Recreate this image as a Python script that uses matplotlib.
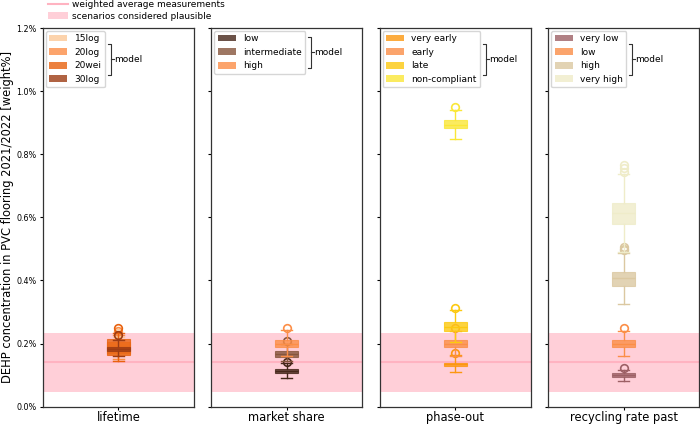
import matplotlib
matplotlib.use("Agg")
import matplotlib.pyplot as plt
from matplotlib.patches import Patch
from matplotlib.lines import Line2D
from matplotlib.ticker import FuncFormatter

# ---------------- data (values in weight%) ----------------
panel_titles = ["lifetime", "market share", "phase-out", "recycling rate past"]

lifetime_labels = ["15log", "20log", "20wei", "30log"]
lifetime_whislo = [0.150, 0.152, 0.146, 0.160]
lifetime_q1 = [0.166, 0.170, 0.163, 0.176]
lifetime_med = [0.180, 0.183, 0.186, 0.182]
lifetime_q3 = [0.200, 0.205, 0.213, 0.190]
lifetime_whishi = [0.222, 0.228, 0.235, 0.212]
lifetime_fliers = [[0.232], [0.240], [0.248], [0.226]]

market_labels = ["low", "intermediate", "high"]
market_whislo = [0.090, 0.145, 0.162]
market_q1 = [0.106, 0.158, 0.189]
market_med = [0.112, 0.167, 0.200]
market_q3 = [0.119, 0.176, 0.2126]
market_whishi = [0.137, 0.200, 0.242]
market_fliers = [[0.141], [0.207], [0.248]]

phase_labels = ["very early", "early", "late", "non-compliant"]
phase_whislo = [0.109, 0.162, 0.205, 0.848]
phase_q1 = [0.128, 0.189, 0.240, 0.882]
phase_med = [0.134, 0.200, 0.254, 0.894]
phase_q3 = [0.140, 0.210, 0.268, 0.908]
phase_whishi = [0.165, 0.241, 0.307, 0.940]
phase_fliers = [[0.170], [0.248], [0.313], [0.950]]

recyc_labels = ["very low", "low", "high", "very high"]
recyc_whislo = [0.081, 0.162, 0.326, 0.490]
recyc_q1 = [0.0946, 0.189, 0.382, 0.580]
recyc_med = [0.100, 0.200, 0.407, 0.615]
recyc_q3 = [0.106, 0.210, 0.426, 0.647]
recyc_whishi = [0.117, 0.241, 0.486, 0.738]
recyc_fliers = [[0.124], [0.248], [0.495, 0.500, 0.505], [0.745, 0.755, 0.765]]

measured_avg = 0.142
plausible_low = 0.047
plausible_high = 0.234

# ---------------- styles ----------------
lifetime_colors = ["#fcc997", "#fc8e47", "#e8620f", "#9c3c14"]
market_colors = ["#46271a", "#86553c", "#fc8e47"]
phase_colors = ["#fc9710", "#fb8e47", "#fcc910", "#fae738"]
recyc_colors = ["#9c6065", "#fb8e47", "#dbc8a1", "#efecc9"]

panels = [
    (lifetime_labels, lifetime_whislo, lifetime_q1, lifetime_med, lifetime_q3, lifetime_whishi, lifetime_fliers, lifetime_colors),
    (market_labels, market_whislo, market_q1, market_med, market_q3, market_whishi, market_fliers, market_colors),
    (phase_labels, phase_whislo, phase_q1, phase_med, phase_q3, phase_whishi, phase_fliers, phase_colors),
    (recyc_labels, recyc_whislo, recyc_q1, recyc_med, recyc_q3, recyc_whishi, recyc_fliers, recyc_colors),
]

ALPHA = 0.8
BAND_COLOR = "pink"
LINE_COLOR = "#ffb3c1"
FS_SMALL = 6.5
FS_TICK = 5.8
FS_LABEL = 8.3

fig = plt.figure(figsize=(7.0, 4.24), dpi=100)
axes = fig.subplots(1, 4, sharey=True)
fig.subplots_adjust(left=43 / 700, right=699 / 700, bottom=1 - 406.7 / 424,
                    top=1 - 28 / 424, wspace=0.117)

legends = []
for ax, title, (labels, wlo, q1, med, q3, whi, fl, colors) in zip(axes, panel_titles, panels):
    ax.axhspan(plausible_low, plausible_high, color=BAND_COLOR, alpha=0.75, lw=0, zorder=0)
    ax.axhline(measured_avg, color=LINE_COLOR, lw=1.5, zorder=0.5)
    for i, lab in enumerate(labels):
        st = [dict(label=lab, whislo=wlo[i], q1=q1[i], med=med[i], q3=q3[i],
                   whishi=whi[i], fliers=fl[i])]
        c = colors[i]
        ax.bxp(st, positions=[1], widths=0.15, patch_artist=True,
               boxprops=dict(facecolor=c, edgecolor=c, alpha=ALPHA, lw=0.8),
               medianprops=dict(color=c, lw=1.0),
               whiskerprops=dict(color=c, lw=1.0),
               capprops=dict(color=c, lw=1.0),
               flierprops=dict(marker="o", markerfacecolor="none", markeredgecolor=c,
                               markersize=5.5, markeredgewidth=1.2),
               manage_ticks=False, zorder=2 + i)
    ax.set_xlim(0.5, 1.5)
    ax.set_xticks([1])
    ax.set_xticklabels([title], fontsize=FS_LABEL)
    ax.tick_params(axis="y", labelsize=FS_TICK, length=2.5, pad=2)
    ax.tick_params(axis="x", length=2, pad=1.2)
    for sp in ax.spines.values():
        sp.set_color("#333333")
        sp.set_linewidth(0.9)
    handles = [Patch(facecolor=c, edgecolor="none", alpha=ALPHA) for c in colors]
    leg = ax.legend(handles, labels, loc="upper left", fontsize=FS_SMALL,
                    borderaxespad=0.3, handlelength=2.0, handleheight=0.75,
                    labelspacing=0.5, framealpha=0.8)
    legends.append(leg)

axes[0].set_ylim(0, 1.2)
axes[0].set_yticks([0, 0.2, 0.4, 0.6, 0.8, 1.0, 1.2])
axes[0].yaxis.set_major_formatter(FuncFormatter(lambda v, _: f"{v:.1f}%"))
axes[0].set_ylabel("DEHP concentration in PVC flooring 2021/2022 [weight%]", fontsize=FS_LABEL)
axes[0].yaxis.set_label_coords(-0.19, 0.5)

# brackets with "model"
fig.canvas.draw()
renderer = fig.canvas.get_renderer()
for ax, leg in zip(axes, legends):
    bb = leg.get_window_extent(renderer)
    inv = ax.transAxes.inverted()
    cy = (bb.y0 + bb.y1) / 2
    xb, yc = inv.transform((bb.x1 + 6, cy))
    y0 = inv.transform((0, cy - 15.5))[1]
    y1 = inv.transform((0, cy + 15.5))[1]
    arm = inv.transform((bb.x1 + 6 - 3, 0))[0]
    tick = inv.transform((bb.x1 + 6 + 3, 0))[0]
    ax.plot([arm, xb, xb, arm], [y0, y0, y1, y1], color="#333333", lw=0.8,
            transform=ax.transAxes, clip_on=False, zorder=10)
    ax.plot([xb, tick], [yc, yc], color="#333333", lw=0.8,
            transform=ax.transAxes, clip_on=False, zorder=10)
    ax.text(tick, yc, "model", fontsize=FS_SMALL, va="center", ha="left",
            transform=ax.transAxes)

# figure legend
fig_handles = [Line2D([], [], color=LINE_COLOR, lw=1.5),
               Patch(facecolor=BAND_COLOR, alpha=0.75, edgecolor="none")]
fig.legend(fig_handles, ["weighted average measurements", "scenarios considered plausible"],
           loc="upper left", bbox_to_anchor=(48 / 700, 1.0), frameon=False,
           fontsize=FS_SMALL, labelspacing=0.3, borderpad=0, borderaxespad=0,
           handlelength=2.2, handletextpad=0.5)

fig.savefig("out.png", dpi=100)
